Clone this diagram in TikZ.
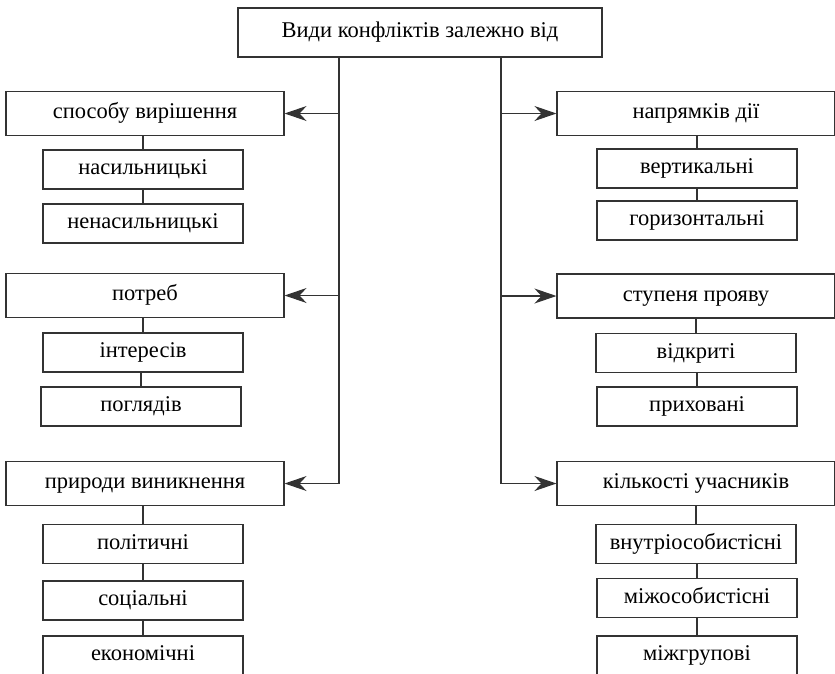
\documentclass[tikz,border=0pt]{standalone}
\usepackage{fontspec}
\setmainfont{Liberation Serif}
\usetikzlibrary{arrows.meta}
\begin{document}
\begin{tikzpicture}[x=1pt,y=-1pt,
  box/.style={draw=black!80, line width=1.1pt, fill=white, inner sep=0pt, text height=15pt, text depth=5pt, font=\fontsize{22.5}{25}\selectfont},
  topbox/.style={box, minimum width=364pt, minimum height=49pt},
  mainbox/.style={box, minimum width=278pt, minimum height=44pt},
  subbox/.style={box, minimum width=200pt, minimum height=39pt},
  link/.style={draw=black!80, line width=1.1pt},
  arr/.style={link, -{Stealth[length=22pt, width=15pt, inset=7pt]}}
]
\useasboundingbox (0,0) rectangle (835,673);
\node[topbox] (top) at (420,32.5) {Види конфліктів залежно від};
\coordinate (tl) at (339,57);
\coordinate (tr) at (501,57);
% left column
\node[mainbox] (sp) at (145,113.5) {способу вирішення};
\node[subbox] (s1) at (143,169.5) {насильницькі};
\node[subbox] (s2) at (143,223.5) {ненасильницькі};
\node[mainbox] (po) at (145,295.5) {потреб};
\node[subbox] (p1) at (143,352.5) {інтересів};
\node[subbox] (p2) at (141,406.5) {поглядів};
\node[mainbox] (pr) at (145,483.5) {природи виникнення};
\node[subbox] (r1) at (143,544) {політичні};
\node[subbox] (r2) at (143,600.5) {соціальні};
\node[subbox] (r3) at (143,655.5) {економічні};
% right column
\node[mainbox] (na) at (696,113.5) {напрямків дії};
\node[subbox] (n1) at (697,168.5) {вертикальні};
\node[subbox] (n2) at (697,220.5) {горизонтальні};
\node[mainbox] (st) at (696,296) {ступеня прояву};
\node[subbox] (t1) at (696,353) {відкриті};
\node[subbox] (t2) at (697,406.5) {приховані};
\node[mainbox] (ki) at (696,483.5) {кількості учасників};
\node[subbox] (k1) at (696,544) {внутріособистісні};
\node[subbox] (k2) at (697,598) {міжособистісні};
\node[subbox] (k3) at (697,655.5) {міжгрупові};
% trunks
\draw[arr] (tl) |- (pr.east);
\draw[arr] (tl |- sp.east) -- (sp.east);
\draw[arr] (tl |- po.east) -- (po.east);
\draw[arr] (tr) |- (ki.west);
\draw[arr] (tr |- na.west) -- (na.west);
\draw[arr] (tr |- st.west) -- (st.west);
% sub links
\foreach \a/\b in {sp/s1,s1/s2,po/p1,p1/p2,pr/r1,r1/r2,r2/r3,na/n1,n1/n2,st/t1,t1/t2,ki/k1,k1/k2,k2/k3}
  \draw[link] (\b.north |- \a.south) -- (\b.north);
\end{tikzpicture}
\end{document}
